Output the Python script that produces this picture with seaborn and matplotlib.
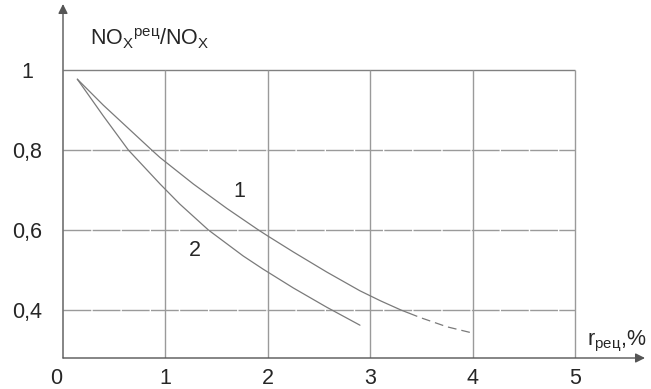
import numpy as np
import pandas as pd
import matplotlib
matplotlib.use('Agg')
import matplotlib.pyplot as plt
import matplotlib.transforms as mtransforms
import seaborn as sns

# curve 1 (solid part + dashed extrapolation)
x1 = [0.14, 0.394, 0.866, 0.948, 1.273, 1.60, 1.909, 2.0, 2.25, 2.575, 2.90, 3.10, 3.30, 3.38]
y1 = [0.977, 0.912, 0.8, 0.781, 0.715, 0.654, 0.6, 0.585, 0.545, 0.495, 0.448, 0.423, 0.4, 0.392]
x1_dash = [3.38, 3.49, 3.75, 3.99]
y1_dash = [0.392, 0.381, 0.358, 0.343]

# curve 2
x2 = [0.14, 0.394, 0.638, 0.948, 1.14, 1.42, 1.76, 1.955, 2.25, 2.575, 2.90]
y2 = [0.977, 0.885, 0.8, 0.715, 0.665, 0.6, 0.535, 0.502, 0.455, 0.407, 0.362]

xticks = [0, 1, 2, 3, 4, 5]
xticklabels = ['0', '1', '2', '3', '4', '5']
yticks = [0.4, 0.6, 0.8, 1.0]
yticklabels = ['0,4', '0,6', '0,8', '1']

sns.set_style('white')
plt.rcParams['font.family'] = ['Liberation Sans', 'DejaVu Sans']
plt.rcParams['mathtext.fontset'] = 'custom'
plt.rcParams['mathtext.rm'] = 'Liberation Sans'
plt.rcParams['mathtext.it'] = 'Liberation Sans'

fs = 15.5

fig = plt.figure(figsize=(6.51, 3.89), dpi=100)
ax = fig.add_axes([63/651, 31/389, 582/651, 354/389])
ax.set_xlim(0, 582/102.4)
ax.set_ylim(0.28, 0.28 + 354/400)

grid_c = '#9a9a9a'
# grid
ax.hlines([0.4, 0.6, 0.8], 0, 5, color=grid_c, lw=1.0, linestyles=(0, (20, 1)))
ax.hlines([1.0], 0, 5, color='#808080', lw=1.0)
ax.vlines([1, 2, 3, 4, 5], 0.28, 1.0, color=grid_c, lw=1.0)

line_c = '#7a7a7a'
sns.lineplot(x=x1, y=y1, ax=ax, color=line_c, lw=0.9, sort=False)
sns.lineplot(x=x1_dash, y=y1_dash, ax=ax, color=line_c, lw=0.9, sort=False,
             linestyle=(0, (7, 4)))
sns.lineplot(x=x2, y=y2, ax=ax, color=line_c, lw=0.9, sort=False)

ax.text(1.72, 0.696, '1', fontsize=fs, ha='center', va='center')
ax.text(1.29, 0.55, '2', fontsize=fs, ha='center', va='center')

ax.text(0.264, 1.0625, 'NO$_\\mathrm{X}{}^\\mathrm{рец}$/NO$_\\mathrm{X}$', fontsize=fs,
        ha='left', va='baseline')
ax.text(5.12, 0.3125, 'r$_\\mathrm{рец}$,%', fontsize=fs, ha='left', va='baseline')

# axes with arrows
for s in ax.spines.values():
    s.set_visible(False)
ax.annotate('', xy=(1, 0), xytext=(0, 0), xycoords='axes fraction',
            arrowprops=dict(arrowstyle='-|>', color='#555555', lw=1.0,
                            mutation_scale=14, shrinkA=0, shrinkB=0))
ax.annotate('', xy=(0, 1), xytext=(0, 0), xycoords='axes fraction',
            arrowprops=dict(arrowstyle='-|>', color='#555555', lw=1.0,
                            mutation_scale=14, shrinkA=0, shrinkB=0))

ax.set_xticks(xticks)
ax.set_xticklabels(xticklabels, fontsize=fs)
ax.set_yticks(yticks)
ax.set_yticklabels(yticklabels, fontsize=fs, ha='center')
ax.tick_params(axis='x', length=0, pad=7)
ax.tick_params(axis='y', length=0, pad=26)
lbl0 = ax.get_xticklabels()[0]
lbl0.set_transform(lbl0.get_transform() + mtransforms.ScaledTranslation(-7/100, 0, fig.dpi_scale_trans))
ax.set_xlabel('')
ax.set_ylabel('')

fig.savefig('out.png', dpi=100)
